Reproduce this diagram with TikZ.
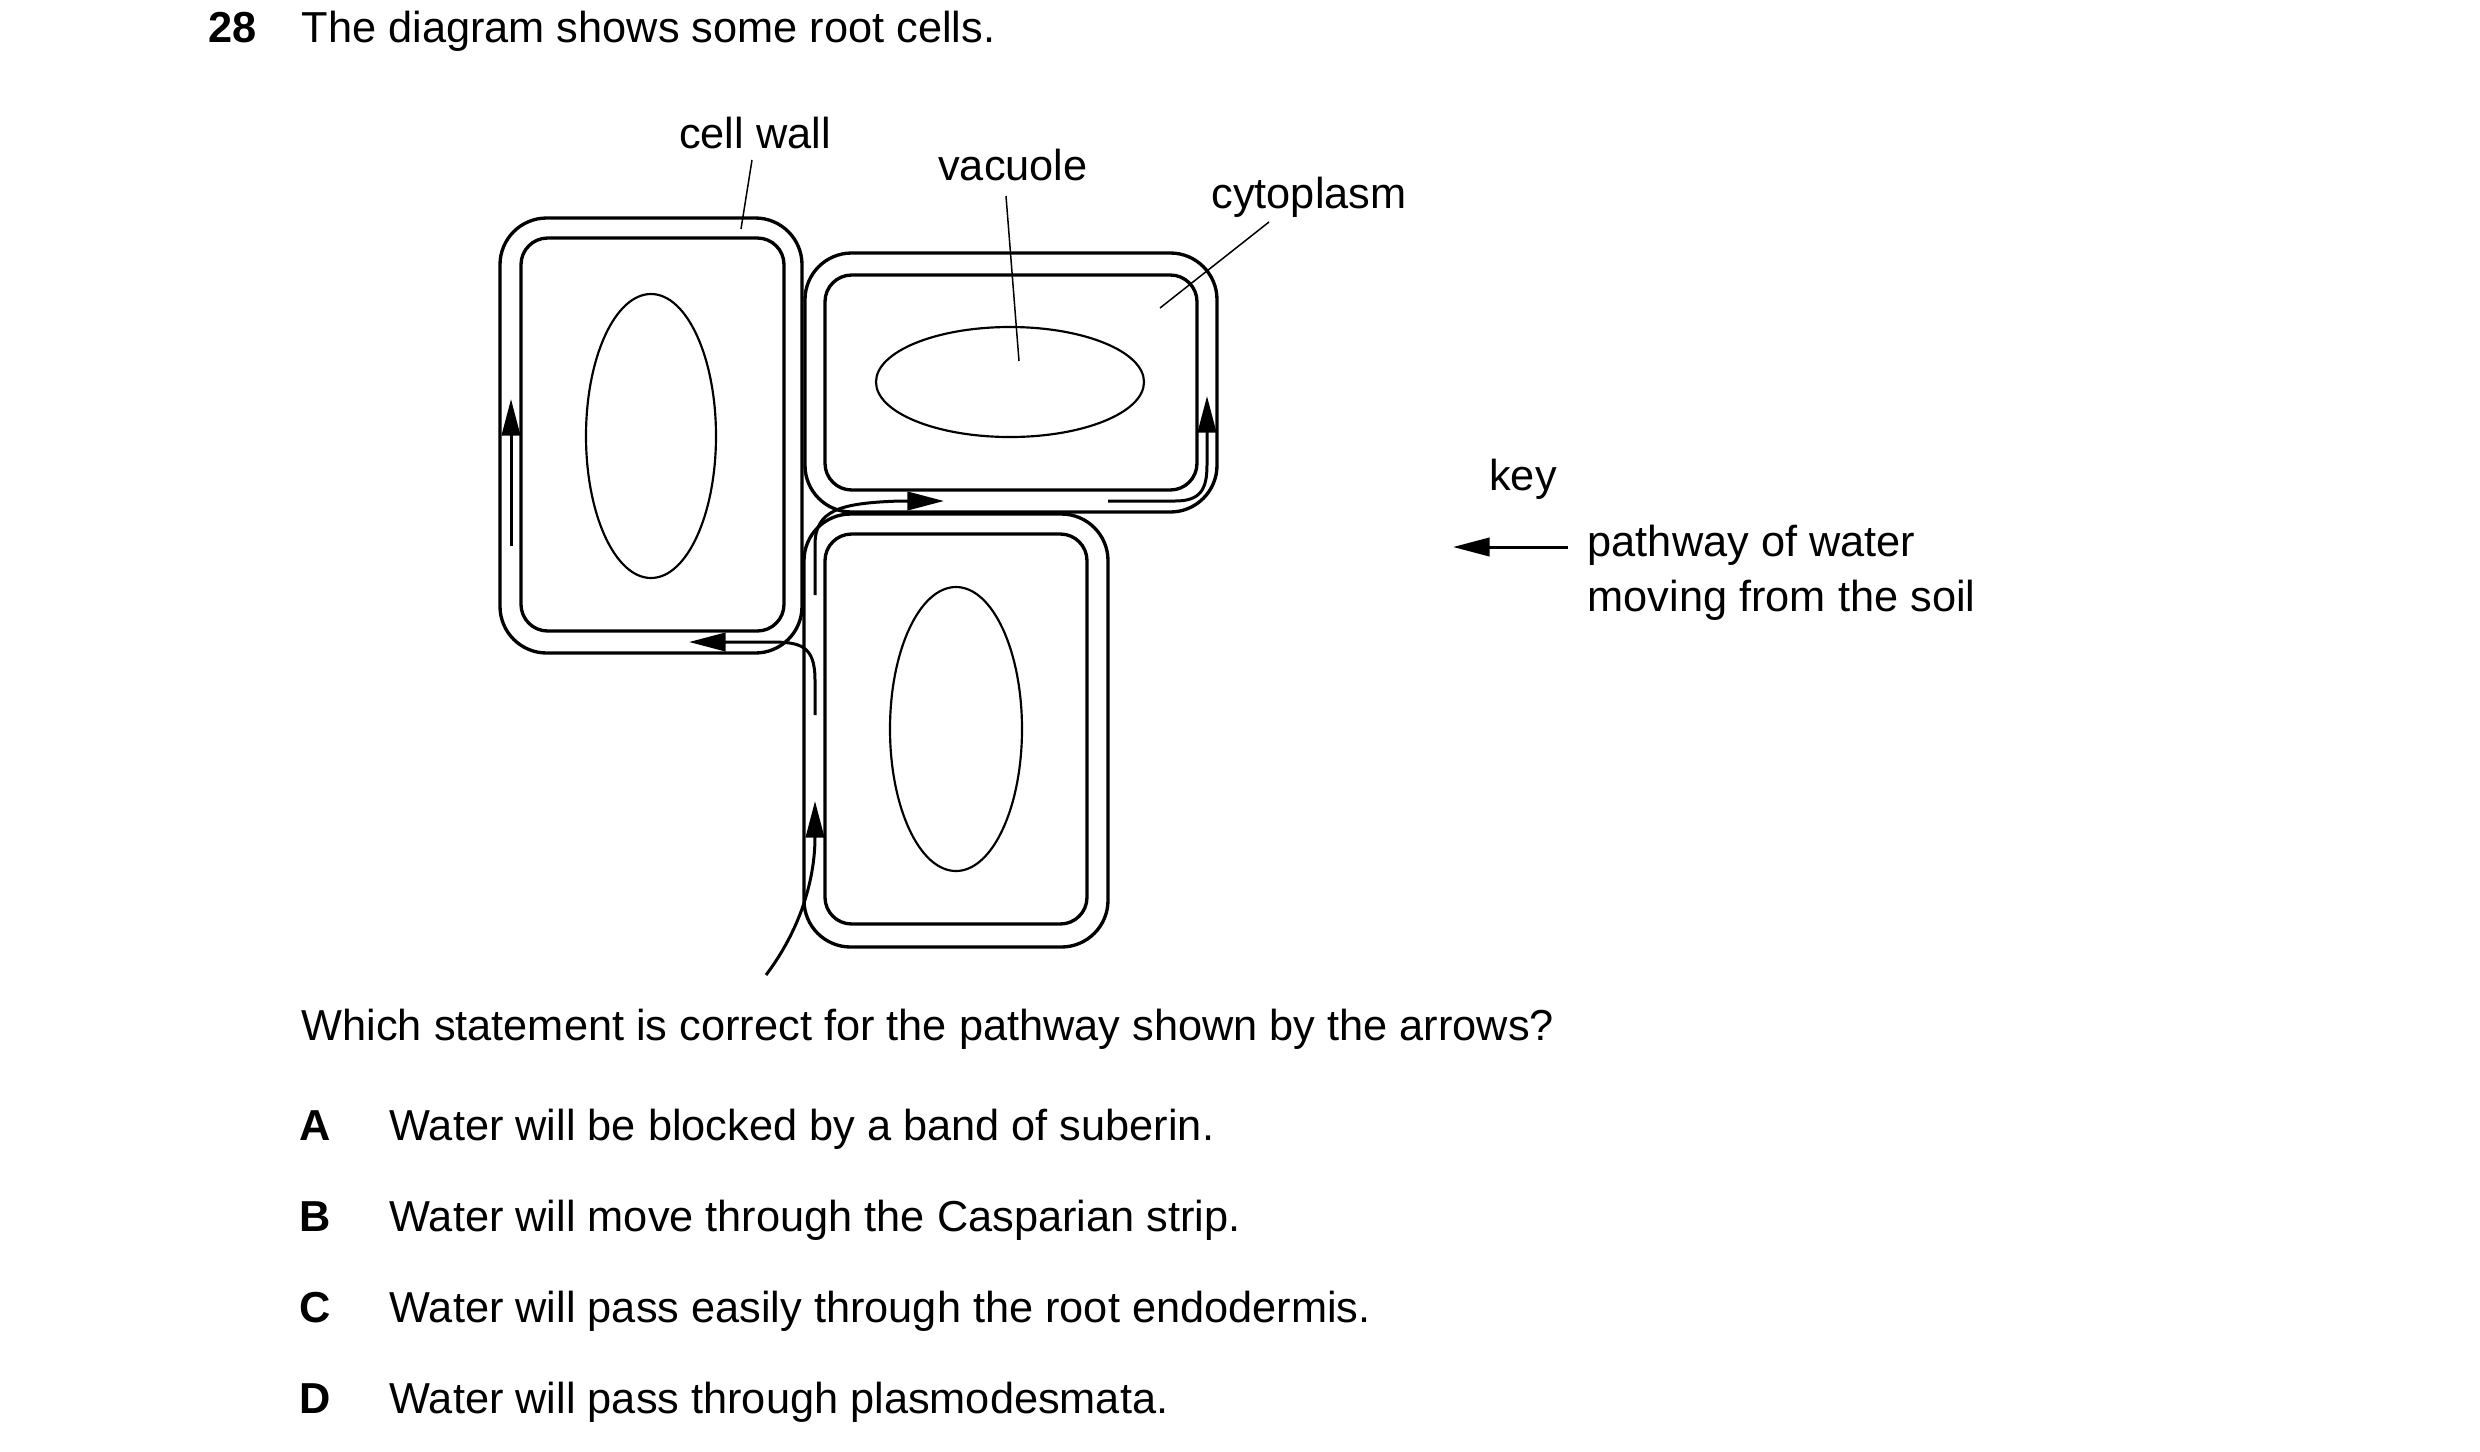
\documentclass[tikz,border=0pt]{standalone}
\usepackage{fontspec}
\setmainfont{Liberation Sans}
\usetikzlibrary{arrows.meta}
\begin{document}
\begin{tikzpicture}[x=0.3pt,y=-0.3pt,
  wall/.style={line width=1pt},
  vac/.style={line width=0.65pt},
  lead/.style={line width=0.45pt},
  flow/.style={line width=0.9pt,-{Triangle[length=11pt,width=5.5pt]}},
  txt/.style={font=\fontsize{13pt}{15pt}\selectfont,inner sep=0pt},
  lab/.style={txt,anchor=base west}]
\useasboundingbox (0,0) rectangle (2480,1451);
% left cell
\draw[wall,rounded corners=14pt] (500,218) rectangle (802,653);
\draw[wall,rounded corners=8pt] (521,238) rectangle (784,631);
\draw[vac] (651,436) ellipse [x radius=65, y radius=142];
% top right cell
\draw[wall,rounded corners=14pt] (805,253) rectangle (1217,512);
\draw[wall,rounded corners=8pt] (825,275) rectangle (1197,490);
\draw[vac] (1010,382) ellipse [x radius=134, y radius=55];
% bottom cell
\draw[wall,rounded corners=14pt] (804,514) rectangle (1108,947);
\draw[wall,rounded corners=8pt] (825,534) rectangle (1087,924);
\draw[vac] (956,729) ellipse [x radius=66, y radius=142];
% flow arrows
\coordinate (a1s) at (511,546); \coordinate (a1e) at (511,399);
\draw[flow] (a1s) -- (a1e);
\coordinate (a2s) at (766,975); \coordinate (a2e) at (815,801);
\draw[flow] (a2s) .. controls (800,930) and (815,880) .. (a2e);
\coordinate (a3s) at (815,715); \coordinate (a3e) at (689,642);
\draw[flow] (a3s) -- (815,680) .. controls (815,645) and (800,642) .. (770,642) -- (a3e);
\coordinate (a4s) at (815,595); \coordinate (a4e) at (944,501);
\draw[flow] (a4s) -- (815,545) .. controls (815,510) and (840,503) .. (900,501) -- (a4e);
\coordinate (a5s) at (1108,501); \coordinate (a5e) at (1207,396);
\draw[flow] (a5s) -- (1175,501) .. controls (1200,501) and (1207,490) .. (1207,465) -- (a5e);
% labels
\node[txt,anchor=base] (cw) at (755,148) {cell wall};
\node[txt,anchor=base] (vc) at (1013,180) {vacuole};
\node[txt,anchor=base] (cy) at (1309,208) {cytoplasm};
\coordinate (cwe) at (741,229); \coordinate (vce) at (1019,361); \coordinate (cye) at (1160,308);
\draw[lead] (752,160) -- (cwe);
\draw[lead] (1006,196) -- (vce);
\draw[lead] (1269,222) -- (cye);
% key
\node[txt,anchor=base] (key) at (1523,490) {key};
\coordinate (ks) at (1568,547); \coordinate (ke) at (1453,547);
\draw[line width=0.9pt,-{Triangle[length=11pt,width=5.5pt]}] (ks) -- (ke);
\node[lab] (k1) at (1587,556) {pathway of water};
\node[lab] (k2) at (1587,611) {moving from the soil};
% text
\node[lab,font=\fontsize{13pt}{15pt}\selectfont\bfseries] (n) at (208,42) {28};
\node[lab] (t) at (301,42) {The diagram shows some root cells.};
\node[lab] (q) at (301,1040) {Which statement is correct for the pathway shown by the arrows?};
\foreach \l/\y/\s in {A/1140/{Water will be blocked by a band of suberin.},
  B/1231/{Water will move through the Casparian strip.},
  C/1322/{Water will pass easily through the root endodermis.},
  D/1413/{Water will pass through plasmodesmata.}}{
  \node[txt,anchor=base,font=\fontsize{13pt}{15pt}\selectfont\bfseries] (l\l) at (315,\y) {\l};
  \node[lab] (o\l) at (389,\y) {\s};
}
\end{tikzpicture}
\end{document}
